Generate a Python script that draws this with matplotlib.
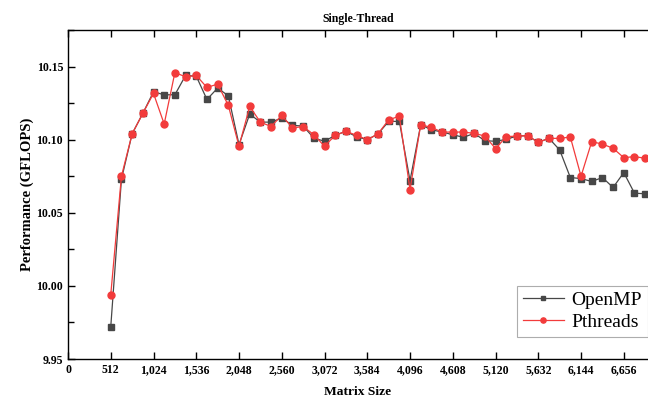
import matplotlib
matplotlib.use("Agg")
import matplotlib.pyplot as plt
from matplotlib.ticker import FuncFormatter, MultipleLocator

sizes = list(range(512, 6913, 128))

openmp = [9.972, 10.073, 10.104, 10.118, 10.1327, 10.1307, 10.1307, 10.1439, 10.1434, 10.1275,
          10.1353, 10.130, 10.0966, 10.1175, 10.112, 10.112, 10.1148, 10.1098, 10.1093, 10.1011,
          10.0989, 10.103, 10.1057, 10.102, 10.100, 10.1039, 10.1125, 10.1125, 10.072, 10.1102,
          10.1068, 10.1052, 10.1034, 10.1016, 10.1043, 10.0993, 10.0989, 10.1002, 10.1025, 10.1027,
          10.0982, 10.1009, 10.093, 10.0741, 10.0734, 10.0714, 10.0741, 10.0673, 10.0775, 10.0634,
          10.063]

pthreads = [9.994, 10.075, 10.104, 10.118, 10.1316, 10.1107, 10.1459, 10.143, 10.1439, 10.1357,
            10.138, 10.1234, 10.0955, 10.1227, 10.112, 10.109, 10.1166, 10.108, 10.109, 10.1034,
            10.0955, 10.103, 10.1057, 10.103, 10.100, 10.1039, 10.1136, 10.116, 10.0659, 10.1102,
            10.1084, 10.1052, 10.1052, 10.1052, 10.1043, 10.1025, 10.0939, 10.102, 10.1025, 10.1027,
            10.0982, 10.1009, 10.1009, 10.1018, 10.075, 10.0986, 10.097, 10.0941, 10.0877, 10.0884,
            10.0873]

xticks = list(range(0, 6657, 512))
yticks = [9.95, 10.00, 10.05, 10.10, 10.15]

serif = ["Liberation Serif", "DejaVu Serif"]
plt.rcParams["font.family"] = serif

fig = plt.figure(figsize=(6.48, 4.0), dpi=100)
ax = fig.add_axes([68/648, 41/400, 1 - 68/648, (359-30)/400])

ax.plot(sizes, openmp, color="#474747", marker="s", markersize=4.3, linewidth=0.9,
        label="OpenMP")
ax.plot(sizes, pthreads, color="#f23b3b", marker="o", markersize=5.0, linewidth=0.9,
        label="Pthreads")

ax.set_xlim(0, 6946)
ax.set_ylim(9.95, 10.175)
ax.set_xticks(xticks)
ax.set_yticks(yticks)
ax.yaxis.set_minor_locator(MultipleLocator(0.025))
ax.xaxis.set_major_formatter(FuncFormatter(lambda v, p: f"{int(v):,}"))
ax.yaxis.set_major_formatter(FuncFormatter(lambda v, p: f"{v:.2f}"))

ax.tick_params(axis="both", which="both", direction="in", top=True, right=False,
               labelsize=8.5, width=1.0)
ax.tick_params(axis="both", which="major", length=5)
ax.tick_params(axis="y", which="minor", length=4)
for lbl in ax.get_xticklabels() + ax.get_yticklabels():
    lbl.set_fontweight("bold")
ax.spines["right"].set_visible(False)
for s in ["left", "bottom", "top"]:
    ax.spines[s].set_linewidth(1.0)

ax.set_xlabel("Matrix Size", fontsize=9.7, fontweight="bold", labelpad=7.5)
ax.set_ylabel("Performance (GFLOPS)", fontsize=10.5, fontweight="bold", labelpad=2)
ax.set_title("Single-Thread", fontsize=8.5, fontweight="bold", pad=6)

leg = ax.legend(loc="lower right", bbox_to_anchor=(0.9995, 0.068), fontsize=14,
                frameon=True, fancybox=False, edgecolor="#999999", handlelength=2.1,
                borderpad=0.3, labelspacing=0.2, handletextpad=0.4, borderaxespad=0.0,
                markerscale=0.75)
leg.get_frame().set_linewidth(0.8)

fig.savefig("out.png", dpi=100)
